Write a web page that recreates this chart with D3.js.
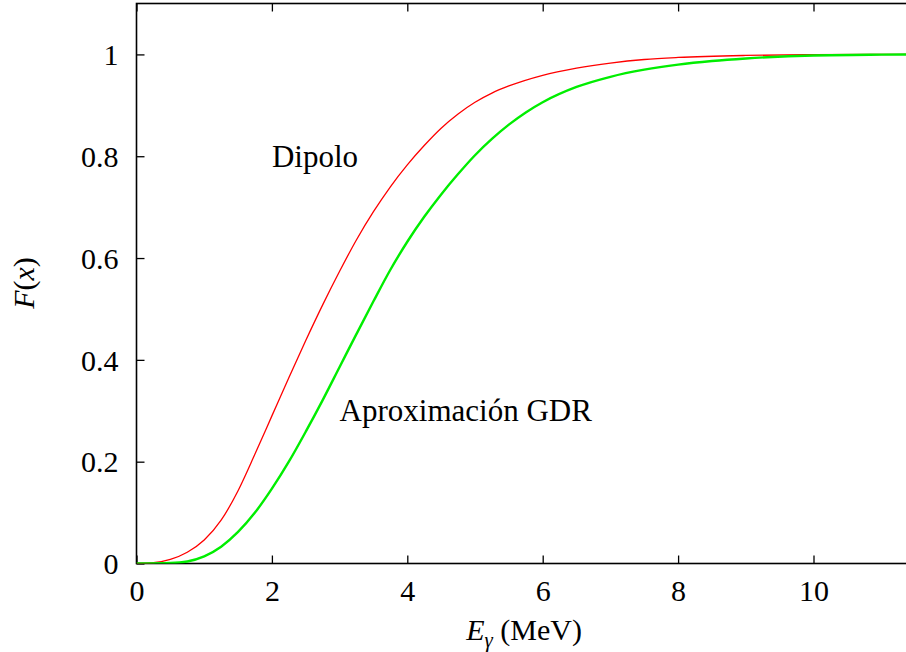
<!DOCTYPE html>
<html>
<head>
<meta charset="utf-8">
<script src="https://cdn.jsdelivr.net/npm/d3@7"></script>
<style>
  html, body { margin: 0; padding: 0; background: #fff; }
  svg { display: block; }
</style>
</head>
<body>
<svg id="chart" width="906" height="652"></svg>
<script>
// Photon energy (MeV) and cumulative fraction F(x), dipole strength function
const dipoleE = [0, 0.25, 0.5, 0.75, 1.0, 1.25, 1.5, 1.75, 2.0, 2.25, 2.5, 2.75, 3.0, 3.25, 3.5, 3.75, 4.0, 4.25, 4.5, 4.75, 5.0, 5.25, 5.5, 6.0, 6.5, 7.0, 7.5, 8.0, 9.0, 10.0, 12.0];
const dipoleF = [0, 0.0015, 0.008, 0.022, 0.046, 0.085, 0.143, 0.215, 0.290, 0.365, 0.438, 0.508, 0.574, 0.636, 0.691, 0.740, 0.783, 0.821, 0.855, 0.883, 0.906, 0.924, 0.938, 0.959, 0.973, 0.983, 0.990, 0.994, 0.998, 0.9995, 1.0];

// GDR approximation
const gdrE = [0, 0.5, 0.75, 1.0, 1.25, 1.5, 1.75, 2.0, 2.25, 2.5, 2.75, 3.0, 3.25, 3.5, 3.75, 4.0, 4.25, 4.5, 4.75, 5.0, 5.25, 5.5, 5.75, 6.0, 6.5, 7.0, 7.5, 8.0, 8.5, 9.0, 10.0, 11.0, 12.0];
const gdrF = [0, 0.001, 0.004, 0.014, 0.033, 0.062, 0.100, 0.147, 0.200, 0.259, 0.321, 0.386, 0.451, 0.515, 0.577, 0.632, 0.681, 0.725, 0.765, 0.802, 0.834, 0.862, 0.886, 0.906, 0.936, 0.956, 0.970, 0.980, 0.987, 0.992, 0.998, 0.9995, 1.0];

const xTicks = [0, 2, 4, 6, 8, 10];
const yTicks = [0, 0.2, 0.4, 0.6, 0.8, 1];
const yTickLabels = ["0", "0.2", "0.4", "0.6", "0.8", "1"];

const curveLabels = [
  { text: "Dipolo", e: 2.0, f: 0.8 },
  { text: "Aproximación GDR", e: 3.0, f: 0.3 }
];

const FONT = "'Liberation Serif', 'Times New Roman', Tinos, 'Noto Serif', 'DejaVu Serif', serif";
const fontSize = 30;

const svg = d3.select("#chart");
const padL = 136.5, padB = 563.5, padT = 3.5;

const x = d3.scaleLinear().domain([0, 12]).range([padL, padL + 12 * 67.7]);
const y = d3.scaleLinear().domain([0, 1.1]).range([padB, padT]);
const padR = x(12);

// Frame
svg.append("rect")
  .attr("x", padL).attr("y", padT)
  .attr("width", padR - padL).attr("height", padB - padT)
  .attr("fill", "none").attr("stroke", "#000").attr("stroke-width", 1.6);

// Axes with inward ticks on all four sides
const gxb = svg.append("g").attr("transform", `translate(0,${padB})`)
  .call(d3.axisBottom(x).tickValues(xTicks).tickSizeInner(-8).tickSizeOuter(0).tickPadding(14));
const gxt = svg.append("g").attr("transform", `translate(0,${padT})`)
  .call(d3.axisTop(x).tickValues(xTicks).tickSizeInner(-8).tickSizeOuter(0).tickFormat(""));
const gyl = svg.append("g").attr("transform", `translate(${padL},0)`)
  .call(d3.axisLeft(y).tickValues(yTicks).tickSizeInner(-8).tickSizeOuter(0).tickPadding(18)
    .tickFormat((d, i) => yTickLabels[i]));
const gyr = svg.append("g").attr("transform", `translate(${padR},0)`)
  .call(d3.axisRight(y).tickValues(yTicks).tickSizeInner(-8).tickSizeOuter(0).tickFormat(""));

[gxb, gxt, gyl, gyr].forEach(g => {
  g.attr("font-family", null).attr("font-size", null);
  g.select(".domain").remove();
  g.selectAll(".tick line").attr("stroke", "#000").attr("stroke-width", 1.3);
  g.selectAll(".tick text")
    .attr("font-family", FONT)
    .attr("font-size", fontSize).attr("fill", "#000");
});
gxb.selectAll(".tick text").attr("dy", "0.78em");
gyl.selectAll(".tick text").attr("dy", "0.34em");

// Curves
const line = d3.line().x(d => x(d[0])).y(d => y(d[1])).curve(d3.curveMonotoneX);
svg.append("clipPath").attr("id", "plotclip")
  .append("rect").attr("x", padL).attr("y", padT).attr("width", padR - padL).attr("height", padB - padT);

const plot = svg.append("g").attr("clip-path", "url(#plotclip)");
plot.append("path")
  .datum(d3.zip(dipoleE, dipoleF))
  .attr("d", line).attr("fill", "none").attr("stroke", "#ff0000").attr("stroke-width", 1.3);
plot.append("path")
  .datum(d3.zip(gdrE, gdrF))
  .attr("d", line).attr("fill", "none").attr("stroke", "#00ee00").attr("stroke-width", 2.4);

// Curve labels
svg.selectAll(".clabel").data(curveLabels).enter().append("text")
  .attr("class", "clabel")
  .attr("x", d => x(d.e)).attr("y", d => y(d.f))
  .attr("dy", "0.34em")
  .attr("font-family", FONT)
  .attr("font-size", 31)
  .text(d => d.text);

// Axis titles
const xt = svg.append("text")
  .attr("x", 524).attr("y", 640)
  .attr("text-anchor", "middle")
  .attr("font-family", FONT)
  .attr("font-size", fontSize);
xt.append("tspan").attr("font-style", "italic").text("E");
xt.append("tspan").attr("dy", 7).attr("font-size", 21).attr("font-style", "italic").text("γ");
xt.append("tspan").attr("dy", -7).text(" (MeV)");

const yt = svg.append("text")
  .attr("transform", "translate(34,283) rotate(-90)")
  .attr("text-anchor", "middle")
  .attr("font-family", FONT)
  .attr("font-size", fontSize);
yt.append("tspan").attr("font-style", "italic").text("F");
yt.append("tspan").text("(");
yt.append("tspan").attr("font-style", "italic").text("x");
yt.append("tspan").text(")");
</script>
</body>
</html>
